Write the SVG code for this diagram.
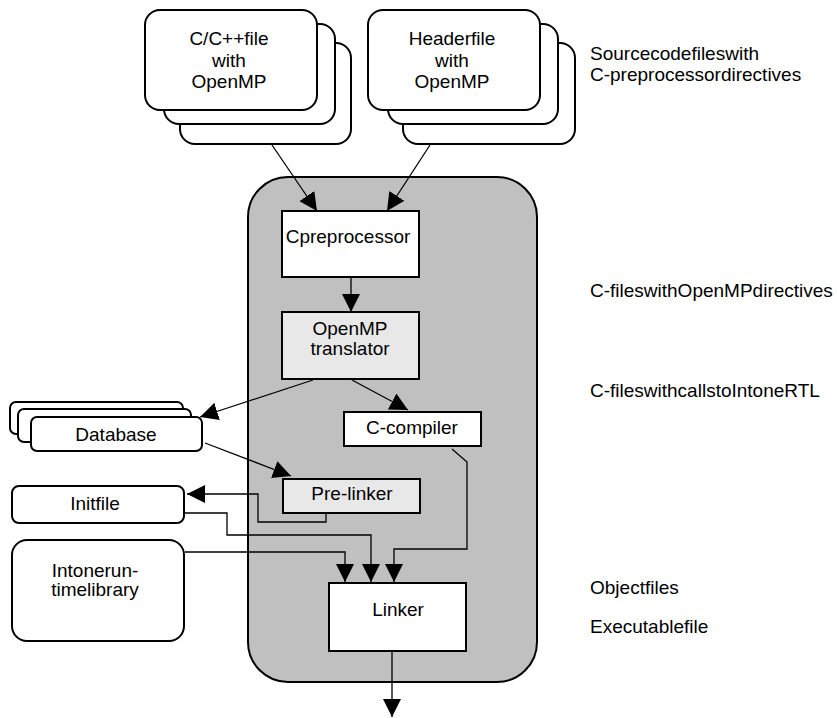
<svg xmlns="http://www.w3.org/2000/svg" width="837" height="718" viewBox="0 0 837 718">
  <style>
    text { font-family: "Liberation Sans", Arial, sans-serif; font-size: 19px; fill: #000; }
    .c { text-anchor: middle; }
    .box { fill: #fff; stroke: #000; stroke-width: 2; }
    .shade { fill: #e8e8e8; stroke: #000; stroke-width: 2; }
    .wire { fill: none; stroke: #000; stroke-width: 1.3; marker-end: url(#arrow); }
  </style>
  <defs>
    <marker id="arrow" viewBox="0 0 18 18" refX="18" refY="9" markerWidth="18" markerHeight="18" markerUnits="userSpaceOnUse" orient="auto">
      <path d="M0,0 L18,9 L0,18 z" fill="#000"/>
    </marker>
  </defs>

  <rect id="white-bg" x="0" y="0" width="837" height="718" fill="#fff"/>

  <!-- compiler container -->
  <g id="compiler">
    <rect x="248" y="177" width="289" height="505" rx="40" ry="40" fill="#c0c0c0" stroke="#000" stroke-width="2"/>
  </g>

  <!-- connectors -->
  <g id="connectors">
    <line class="wire" x1="272" y1="145" x2="317" y2="211"/>
    <line class="wire" x1="430" y1="145" x2="387" y2="211"/>
    <line class="wire" x1="351" y1="277" x2="351" y2="312"/>
    <line class="wire" x1="313" y1="380" x2="200" y2="417"/>
    <line class="wire" x1="352" y1="380" x2="408" y2="410"/>
    <line class="wire" x1="205" y1="443" x2="291" y2="476"/>
    <polyline class="wire" points="326,513 326,522 258,522 258,494 187,494"/>
    <polyline class="wire" points="185,513 227,513 227,535 371,535 371,582"/>
    <polyline class="wire" points="185,552 345,552 345,582"/>
    <polyline class="wire" points="452,449 467,462 467,549 394,549 394,582"/>
    <line class="wire" x1="392" y1="651" x2="392" y2="717"/>
  </g>

  <!-- source stacks -->
  <g id="cfile">
    <rect class="box" x="180" y="43" width="171" height="101" rx="15"/>
    <rect class="box" x="164" y="24" width="171" height="100" rx="15"/>
    <rect class="box" x="145" y="10" width="172" height="100" rx="15"/>
    <text class="c" x="229" y="45">C/C++file</text>
    <text class="c" x="229" y="67">with</text>
    <text class="c" x="229" y="88">OpenMP</text>
  </g>
  <g id="headerfile">
    <rect class="box" x="403" y="43" width="172" height="101" rx="15"/>
    <rect class="box" x="388" y="24" width="170" height="100" rx="15"/>
    <rect class="box" x="368" y="10" width="172" height="100" rx="15"/>
    <text class="c" x="452" y="45">Headerfile</text>
    <text class="c" x="452" y="67">with</text>
    <text class="c" x="452" y="88">OpenMP</text>
  </g>

  <!-- compiler stages -->
  <g id="preprocessor">
    <rect class="box" x="282" y="211" width="137" height="66"/>
    <text class="c" x="348" y="243">Cpreprocessor</text>
  </g>
  <g id="translator">
    <rect class="shade" x="282" y="312" width="137" height="67"/>
    <text class="c" x="350" y="335">OpenMP</text>
    <text class="c" x="350" y="355">translator</text>
  </g>
  <g id="ccompiler">
    <rect class="box" x="344" y="412" width="137" height="34"/>
    <text class="c" x="412" y="434">C-compiler</text>
  </g>
  <g id="prelinker">
    <rect class="shade" x="283" y="479" width="137" height="34"/>
    <text class="c" x="352" y="500">Pre-linker</text>
  </g>
  <g id="linker">
    <rect class="box" x="329" y="583" width="137" height="68"/>
    <text class="c" x="398" y="616">Linker</text>
  </g>

  <!-- external files -->
  <g id="database">
    <rect class="box" x="10" y="402" width="173" height="32" rx="6"/>
    <rect class="box" x="18" y="409" width="173" height="33" rx="6"/>
    <rect class="box" x="31" y="417" width="171" height="34" rx="6"/>
    <text class="c" x="116" y="441">Database</text>
  </g>
  <g id="initfile">
    <rect class="box" x="12" y="486" width="172" height="37" rx="7"/>
    <text class="c" x="95" y="510">Initfile</text>
  </g>
  <g id="runtime">
    <rect class="box" x="12" y="540" width="172" height="101" rx="15"/>
    <text class="c" x="95" y="577">Intonerun-</text>
    <text class="c" x="95" y="596">timelibrary</text>
  </g>

  <!-- stage annotations -->
  <g id="annotations">
    <text x="590" y="60">Sourcecodefileswith</text>
    <text x="590" y="81">C-preprocessordirectives</text>
    <text x="590" y="297">C-fileswithOpenMPdirectives</text>
    <text x="590" y="397">C-fileswithcallstoIntoneRTL</text>
    <text x="590" y="594">Objectfiles</text>
    <text x="590" y="633">Executablefile</text>
  </g>
</svg>
